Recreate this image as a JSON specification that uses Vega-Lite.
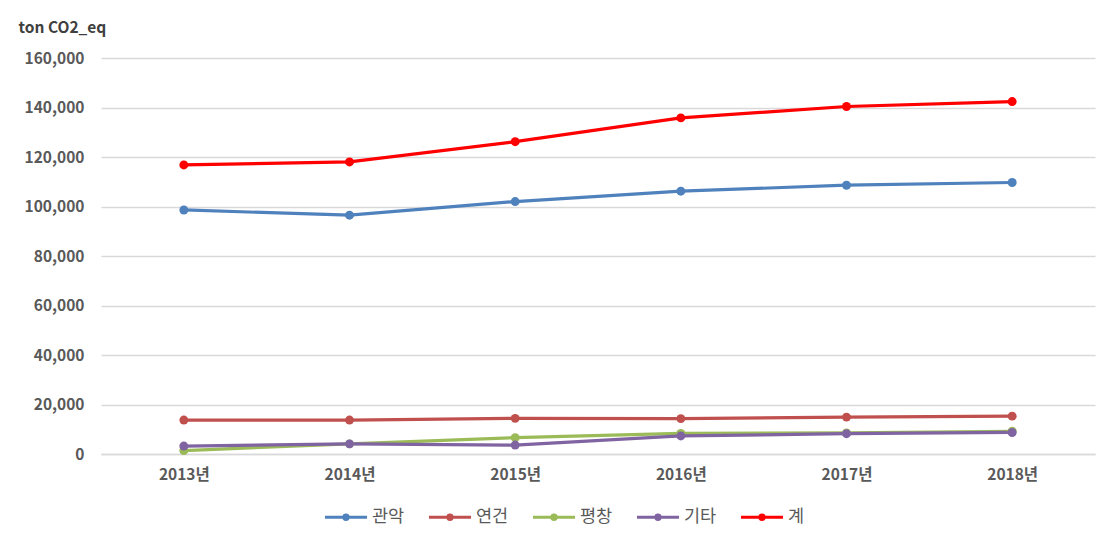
{
  "$schema": "https://vega.github.io/schema/vega-lite/v6.json",
  "autosize": {"type": "none"},
  "width": 994,
  "height": 396,
  "padding": {"left": 101, "top": 58, "right": 18, "bottom": 85},
  "background": "white",
  "data": {"values": [
    {"year": "2013년", "series": "관악", "value": 98600},
    {"year": "2014년", "series": "관악", "value": 96500},
    {"year": "2015년", "series": "관악", "value": 102000},
    {"year": "2016년", "series": "관악", "value": 106200},
    {"year": "2017년", "series": "관악", "value": 108600},
    {"year": "2018년", "series": "관악", "value": 109700},
    {"year": "2013년", "series": "연건", "value": 13700},
    {"year": "2014년", "series": "연건", "value": 13700},
    {"year": "2015년", "series": "연건", "value": 14400},
    {"year": "2016년", "series": "연건", "value": 14300},
    {"year": "2017년", "series": "연건", "value": 14900},
    {"year": "2018년", "series": "연건", "value": 15300},
    {"year": "2013년", "series": "평창", "value": 1400},
    {"year": "2014년", "series": "평창", "value": 4100},
    {"year": "2015년", "series": "평창", "value": 6600},
    {"year": "2016년", "series": "평창", "value": 8300},
    {"year": "2017년", "series": "평창", "value": 8500},
    {"year": "2018년", "series": "평창", "value": 9200},
    {"year": "2013년", "series": "기타", "value": 3200},
    {"year": "2014년", "series": "기타", "value": 4100},
    {"year": "2015년", "series": "기타", "value": 3600},
    {"year": "2016년", "series": "기타", "value": 7300},
    {"year": "2017년", "series": "기타", "value": 8200},
    {"year": "2018년", "series": "기타", "value": 8700},
    {"year": "2013년", "series": "계", "value": 116800},
    {"year": "2014년", "series": "계", "value": 118000},
    {"year": "2015년", "series": "계", "value": 126200},
    {"year": "2016년", "series": "계", "value": 135800},
    {"year": "2017년", "series": "계", "value": 140400},
    {"year": "2018년", "series": "계", "value": 142400}
  ]},
  "mark": {"type": "line", "strokeWidth": 3.2, "point": {"filled": true, "size": 80}},
  "encoding": {
    "x": {
      "field": "year", "type": "ordinal",
      "scale": {"type": "point", "padding": 0.5},
      "axis": {
        "title": null, "labelAngle": 0, "ticks": false, "domain": true,
        "domainColor": "#d9d9d9", "domainWidth": 1.5,
        "labelFont": "Noto Sans CJK KR", "labelFontSize": 15.5, "labelFontWeight": "bold",
        "labelColor": "#595959", "labelPadding": 13
      }
    },
    "y": {
      "field": "value", "type": "quantitative",
      "scale": {"domain": [0, 160000], "nice": false},
      "axis": {
        "values": [0, 20000, 40000, 60000, 80000, 100000, 120000, 140000, 160000],
        "format": ",d",
        "domain": false, "ticks": false,
        "gridColor": "#d9d9d9", "gridWidth": 1.5,
        "labelFont": "Noto Sans CJK KR", "labelFontSize": 15.5, "labelFontWeight": "bold",
        "labelColor": "#595959", "labelPadding": 17,
        "title": "ton CO2_eq", "titleAngle": 0, "titleX": -83, "titleY": -31,
        "titleAlign": "left", "titleBaseline": "middle",
        "titleFont": "Noto Sans CJK KR", "titleFontSize": 15.5, "titleFontWeight": "bold",
        "titleColor": "#404040"
      }
    },
    "color": {
      "field": "series", "type": "nominal",
      "sort": ["관악", "연건", "평창", "기타", "계"],
      "scale": {
        "domain": ["관악", "연건", "평창", "기타", "계"],
        "range": ["#4F81BD", "#C0504D", "#9BBB59", "#8064A2", "#FF0000"]
      },
      "legend": {
        "title": null, "orient": "none", "direction": "horizontal",
        "legendX": 222, "legendY": 436,
        "symbolType": "M-1,0L1,0M-0.1,0A0.1,0.1 0 1,1 0.1,0A0.1,0.1 0 1,1 -0.1,0",
        "symbolSize": 1760, "symbolStrokeWidth": 3.2,
        "labelFont": "Noto Sans CJK KR", "labelFontSize": 17.5, "labelColor": "#595959",
        "labelOffset": 3, "columnPadding": 17
      }
    }
  },
  "config": {"view": {"stroke": null}}
}
